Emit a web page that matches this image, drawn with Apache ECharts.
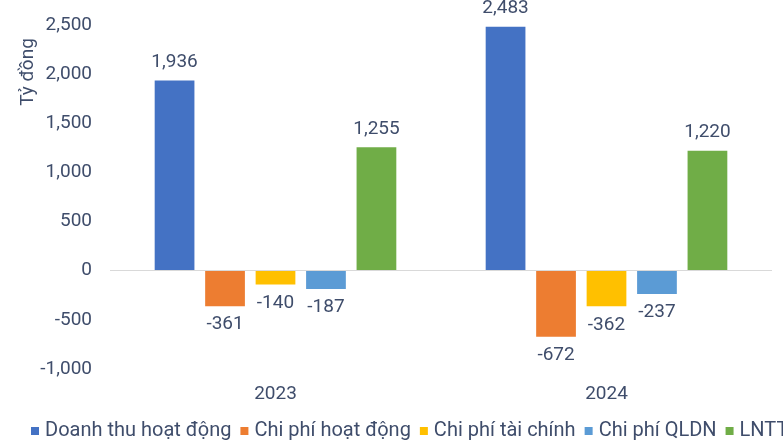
<!DOCTYPE html>
<html>
<head>
<meta charset="utf-8">
<script src="https://cdn.jsdelivr.net/npm/echarts@6/dist/echarts.min.js"></script>
<style>
  html, body { margin: 0; padding: 0; background: #fff; }
  #chart { width: 783px; height: 441px; }
</style>
</head>
<body>
<div id="chart"></div>
<script>
// so lieu doc tu hinh
const years = ['2023', '2024']
const seriesNames = ['Doanh thu hoạt động', 'Chi phí hoạt động', 'Chi phí tài chính', 'Chi phí QLDN', 'LNTT']
const doanhThu = [1936, 2483]
const chiPhiHD = [-361, -672]
const chiPhiTC = [-140, -362]
const chiPhiQLDN = [-187, -237]
const lntt = [1255, 1220]
const colors = ['#4472C4', '#ED7D31', '#FFC000', '#5B9BD5', '#70AD47']

const textColor = '#3F4D6B'
const font = 'Roboto, "Noto Sans", sans-serif'
const fs = 19

const allValues = [doanhThu, chiPhiHD, chiPhiTC, chiPhiQLDN, lntt]

function fmt(v) {
    return v.toLocaleString('en-US')
}

const series = allValues.map((vals, i) => ({
    name: seriesNames[i],
    type: 'bar',
    barGap: '27%',
    barCategoryGap: '27%',
    itemStyle: { color: colors[i] },
    data: vals.map(v => ({
        value: v,
        label: { position: v < 0 ? 'bottom' : 'top' }
    })),
    label: {
        show: true,
        distance: 9,
        color: textColor,
        fontSize: fs,
        fontFamily: font,
        formatter: p => fmt(p.value)
    },
    markLine: i === 0 ? {
        silent: true,
        symbol: 'none',
        label: { show: false },
        lineStyle: { color: '#D9D9D9', type: 'solid', width: 1 },
        data: [{ yAxis: 0 }]
    } : undefined
}))

const chart = echarts.init(document.getElementById('chart'))
chart.setOption({
    animation: false,
    grid: { left: 110, right: 11, top: 25, bottom: 72 },
    xAxis: {
        type: 'category',
        data: years,
        axisLine: { show: false, onZero: false },
        axisTick: { show: false },
        axisLabel: { color: textColor, fontSize: fs, fontFamily: font, margin: 16 }
    },
    yAxis: {
        type: 'value',
        min: -1000,
        max: 2500,
        interval: 500,
        splitLine: { show: false },
        axisLine: { show: false },
        axisTick: { show: false },
        axisLabel: {
            color: textColor,
            fontSize: fs,
            fontFamily: font,
            margin: 18,
            formatter: v => fmt(v)
        }
    },
    legend: {
        bottom: 0,
        left: 31,
        width: 1200,
        padding: 0,
        itemWidth: 8,
        itemHeight: 8,
        itemGap: 9,
        icon: 'rect',
        textStyle: { color: textColor, fontSize: 20, fontFamily: font, padding: [0, 0, 0, 1] },
        data: seriesNames
    },
    graphic: [{
        type: 'text',
        x: 28,
        y: 72,
        rotation: Math.PI / 2,
        style: {
            text: 'Tỷ đồng',
            fill: textColor,
            fontSize: 19,
            fontFamily: font,
            align: 'center',
            verticalAlign: 'middle'
        }
    }],
    series: series
})
</script>
</body>
</html>
